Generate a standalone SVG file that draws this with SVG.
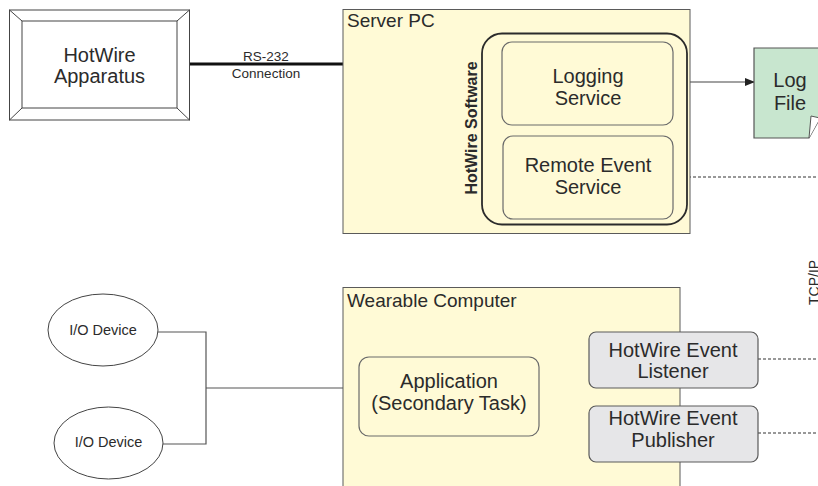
<svg xmlns="http://www.w3.org/2000/svg" width="818" height="486" viewBox="0 0 818 486">
<defs>
<style>
text{font-family:"Liberation Sans",Arial,sans-serif;fill:#2b2b2b}
.c{text-anchor:middle}
.t20{font-size:20px}
.t19{font-size:19px}
.t14{font-size:14.5px}
.t13{font-size:13.5px}
.box{fill:#fffad6;stroke:#5a5a5a;stroke-width:1}
.svc{fill:#fffad6;stroke:#6a6a6a;stroke-width:1.2}
.gray{fill:#e6e6e8;stroke:#5a5a5a;stroke-width:1.2}
.ln{fill:none;stroke:#555;stroke-width:1.2}
.dash{fill:none;stroke:#333;stroke-width:1.2;stroke-dasharray:3,2}
</style>
<marker id="arr" markerWidth="10" markerHeight="8" refX="9" refY="4" orient="auto" markerUnits="userSpaceOnUse">
<path d="M0,0 L10,4 L0,8 Z" fill="#222"/>
</marker>
</defs>
<rect width="818" height="486" fill="#fff"/>

<g id="connectors">
<line x1="189" y1="64" x2="343" y2="64" stroke="#111" stroke-width="3.2"/>
<line x1="673" y1="82" x2="754" y2="82" stroke="#444" stroke-width="1.2" marker-end="url(#arr)"/>
<line class="dash" x1="673" y1="177" x2="818" y2="177"/>
<line class="dash" x1="758" y1="359" x2="818" y2="359"/>
<line class="dash" x1="758" y1="433" x2="818" y2="433"/>
<polyline class="ln" points="158,332 206,332 206,444 163,444"/>
<line class="ln" x1="206" y1="388" x2="343" y2="388"/>
<polyline class="ln" points="539,396 561,396"/>
<polyline class="ln" points="589,361 561,361 561,434 589,434"/>
</g>

<g id="label-rs232">
<text class="c t13" x="266" y="61">RS-232</text>
<text class="c t13" x="266" y="78">Connection</text>
</g>
<g id="label-tcpip">
<text font-size="14" transform="translate(818.5,305) rotate(-90)">TCP/IP</text>
</g>

<g id="hotwire-apparatus">
<rect x="9.5" y="10" width="180" height="110" fill="#fff" stroke="#444" stroke-width="1"/>
<rect x="22" y="21" width="155" height="87" fill="#fff" stroke="#444" stroke-width="1"/>
<line x1="9.5" y1="10" x2="22" y2="21" stroke="#444"/>
<line x1="189.5" y1="10" x2="177" y2="21" stroke="#444"/>
<line x1="9.5" y1="120" x2="22" y2="108" stroke="#444"/>
<line x1="189.5" y1="120" x2="177" y2="108" stroke="#444"/>
<text class="c t20" x="99.5" y="62">HotWire</text>
<text class="c t20" x="99.5" y="83">Apparatus</text>
</g>

<g id="server-pc">
<rect class="box" x="343" y="9.5" width="347" height="224"/>
<text class="t19" x="347" y="27">Server PC</text>
</g>

<g id="hotwire-software">
<rect x="482" y="33.5" width="205" height="191" rx="20" fill="none" stroke="#2b2b2b" stroke-width="1.8"/>
<text font-size="16" font-weight="bold" class="c" transform="translate(477,128) rotate(-90)">HotWire Software</text>
</g>

<g id="logging-service">
<rect class="svc" x="502" y="42" width="171" height="83" rx="10"/>
<text class="c t20" x="588" y="83">Logging</text>
<text class="c t20" x="588" y="105">Service</text>
</g>

<g id="remote-event-service">
<rect class="svc" x="503" y="136" width="170" height="83" rx="10"/>
<text class="c t20" x="588" y="172">Remote Event</text>
<text class="c t20" x="588" y="194">Service</text>
</g>

<g id="log-file">
<path d="M754,48 L820,48 L820,118 L809,138 L754,138 Z" fill="#c8e6cf" stroke="#555" stroke-width="1.2"/>
<path d="M809,138 L811,116 L820,118" fill="#fff" stroke="#555" stroke-width="1"/>
<text class="c t20" x="790" y="87">Log</text>
<text class="c t20" x="790" y="110">File</text>
</g>

<g id="wearable-computer">
<rect class="box" x="343" y="287.5" width="337" height="210"/>
<text class="t19" x="347" y="307">Wearable Computer</text>
</g>

<g id="application">
<rect class="svc" x="359" y="357" width="180" height="79" rx="10"/>
<text class="c t20" x="449" y="388">Application</text>
<text class="c t20" x="449" y="410">(Secondary Task)</text>
</g>

<g id="event-listener">
<rect class="gray" x="589" y="332" width="169" height="56" rx="7"/>
<text class="c t20" x="673" y="357">HotWire Event</text>
<text class="c t20" x="673" y="378">Listener</text>
</g>

<g id="event-publisher">
<rect class="gray" x="589" y="406" width="169" height="56" rx="7"/>
<text class="c t20" x="673" y="425">HotWire Event</text>
<text class="c t20" x="673" y="447">Publisher</text>
</g>

<g id="io-device-1">
<ellipse cx="103" cy="330" rx="55" ry="36" fill="#fff" stroke="#444" stroke-width="1"/>
<text class="c t14" x="103" y="335">I/O Device</text>
</g>

<g id="io-device-2">
<ellipse cx="108.5" cy="443" rx="54.5" ry="36" fill="#fff" stroke="#444" stroke-width="1"/>
<text class="c t14" x="108.5" y="447">I/O Device</text>
</g>
</svg>
